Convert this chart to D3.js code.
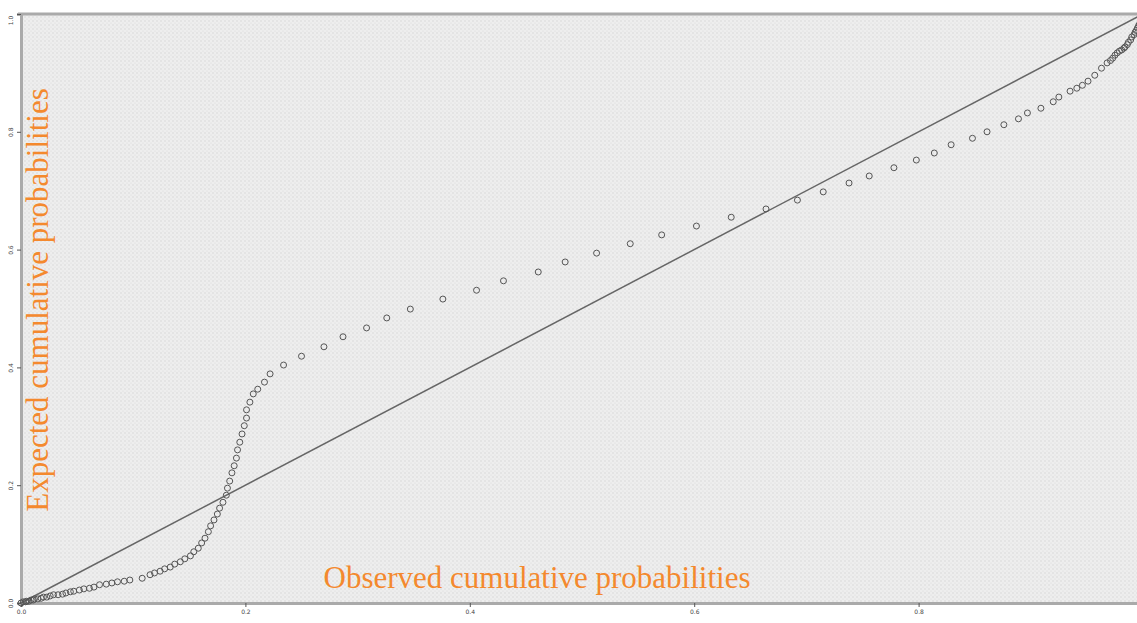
<!DOCTYPE html>
<html>
<head>
<meta charset="utf-8">
<style>
  body { margin: 0; background: #fff; }
  .tick text { font-family: "DejaVu Sans", sans-serif; font-size: 6px; fill: #444; }
  .title { font-family: "Liberation Serif", serif; font-size: 31px; fill: #f4892e; }
</style>
<title>P-P plot</title>
</head>
<body>
<script src="https://cdn.jsdelivr.net/npm/d3@7"></script>
<script>
// observed cumulative probabilities (x)
var observed = [0.000,0.002,0.004,0.005,0.007,0.009,0.011,0.012,0.015,0.018,0.020,0.023,0.026,0.029,0.033,0.037,0.040,0.044,0.047,0.052,
  0.056,0.061,0.065,0.070,0.076,0.081,0.086,0.092,0.097,0.108,0.115,0.119,0.124,0.128,0.133,0.137,0.142,0.146,0.151,0.154,
  0.158,0.161,0.164,0.167,0.169,0.172,0.175,0.177,0.180,0.183,0.184,0.186,0.188,0.190,0.192,0.193,0.195,0.197,0.199,0.201,
  0.201,0.204,0.207,0.211,0.217,0.222,0.234,0.250,0.270,0.287,0.308,0.326,0.347,0.376,0.406,0.430,0.461,0.485,0.513,0.543,
  0.571,0.602,0.633,0.664,0.692,0.715,0.738,0.756,0.778,0.798,0.814,0.829,0.848,0.861,0.876,0.889,0.897,0.909,0.920,0.925,
  0.935,0.941,0.946,0.951,0.957,0.963,0.968,0.971,0.973,0.975,0.977,0.979,0.981,0.983,0.984,0.986,0.987,0.989,0.990,0.992,
  0.993,0.994,0.995,0.996,0.997,0.998,0.999,1.000];
// expected cumulative probabilities (y)
var expected = [0.000,0.002,0.002,0.003,0.003,0.005,0.005,0.007,0.007,0.008,0.010,0.010,0.012,0.014,0.014,0.015,0.017,0.019,0.020,0.022,
  0.024,0.025,0.027,0.031,0.032,0.034,0.036,0.037,0.039,0.042,0.048,0.051,0.054,0.058,0.061,0.066,0.070,0.075,0.080,0.087,
  0.093,0.102,0.110,0.121,0.131,0.141,0.151,0.161,0.171,0.183,0.195,0.207,0.221,0.233,0.246,0.260,0.273,0.287,0.301,0.314,
  0.328,0.341,0.355,0.363,0.375,0.389,0.404,0.419,0.435,0.452,0.467,0.484,0.499,0.516,0.531,0.547,0.562,0.579,0.594,0.610,
  0.625,0.640,0.655,0.669,0.684,0.698,0.713,0.725,0.739,0.752,0.764,0.778,0.789,0.800,0.812,0.822,0.832,0.840,0.851,0.859,
  0.869,0.874,0.879,0.886,0.896,0.908,0.917,0.921,0.925,0.930,0.934,0.937,0.939,0.942,0.944,0.948,0.952,0.956,0.961,0.965,
  0.969,0.972,0.976,0.980,0.983,0.988,0.993,1.000];
var xTicks = [0, 0.2, 0.4, 0.6, 0.8];
var yTicks = [0, 0.2, 0.4, 0.6, 0.8, 1.0];
var xTitle = "Observed cumulative probabilities";
var yTitle = "Expected cumulative probabilities";

var W = 1137, H = 623;
var plotL = 21, plotT = 14, plotB = 603, plotR = 1143;

var x = d3.scaleLinear().domain([0, 1]).range([plotL, plotR]);
var y = d3.scaleLinear().domain([0, 1]).range([plotB, plotT]);

var svg = d3.select("body").append("svg")
  .attr("width", W).attr("height", H);

var pat = svg.append("defs").append("pattern")
  .attr("id", "dots").attr("patternUnits", "userSpaceOnUse")
  .attr("width", 4).attr("height", 4);
pat.append("rect").attr("width", 4).attr("height", 4).attr("fill", "#eeeeee");
pat.append("circle").attr("cx", 1).attr("cy", 1).attr("r", 0.7).attr("fill", "#d2d2d2");
pat.append("circle").attr("cx", 3).attr("cy", 3).attr("r", 0.6).attr("fill", "#dadada");

svg.append("rect")
  .attr("x", plotL).attr("y", plotT)
  .attr("width", W - plotL).attr("height", plotB - plotT)
  .attr("fill", "url(#dots)");

// top frame line
svg.append("line").attr("x1", plotL - 3).attr("x2", W).attr("y1", plotT).attr("y2", plotT)
  .attr("stroke", "#aaa").attr("stroke-width", 3);

var xAxis = d3.axisBottom(x).tickValues(xTicks).tickFormat(d3.format(".1f")).tickSize(4).tickPadding(3);
var yAxis = d3.axisLeft(y).tickValues(yTicks).tickFormat(d3.format(".1f")).tickSize(4).tickPadding(2);

var gx = svg.append("g").attr("transform", "translate(0," + plotB + ")").call(xAxis);
var gy = svg.append("g").attr("transform", "translate(" + plotL + ",0)").call(yAxis);
gx.select(".domain").attr("stroke", "#aaa").attr("stroke-width", 3);
gy.select(".domain").attr("stroke", "#aaa").attr("stroke-width", 3);
gx.selectAll(".tick line").attr("stroke", "#555");
gy.selectAll(".tick line").attr("stroke", "#555");
gy.selectAll(".tick text")
  .attr("transform", "rotate(-90)")
  .attr("x", 0).attr("y", -8).attr("dy", 0)
  .attr("text-anchor", "middle");
// keep the top label inside the picture
gy.selectAll(".tick text").filter(function(d) { return d === 1; })
  .attr("x", -6);

// reference diagonal
svg.append("line")
  .attr("x1", x(0)).attr("y1", y(0)).attr("x2", x(1)).attr("y2", y(1))
  .attr("stroke", "#666").attr("stroke-width", 1.5);

var pts = observed.map(function(d, i) { return [d, expected[i]]; });
svg.append("g").selectAll("circle").data(pts).enter()
  .append("circle")
  .attr("cx", function(d) { return x(d[0]); })
  .attr("cy", function(d) { return y(d[1]); })
  .attr("r", 3)
  .attr("fill", "none")
  .attr("stroke", "#555")
  .attr("stroke-width", 1);

svg.append("text").attr("class", "title")
  .attr("x", 537).attr("y", 588)
  .attr("text-anchor", "middle")
  .text(xTitle);

svg.append("text").attr("class", "title")
  .attr("transform", "translate(48,300) rotate(-90)")
  .attr("text-anchor", "middle")
  .text(yTitle);
</script>
</body>
</html>
